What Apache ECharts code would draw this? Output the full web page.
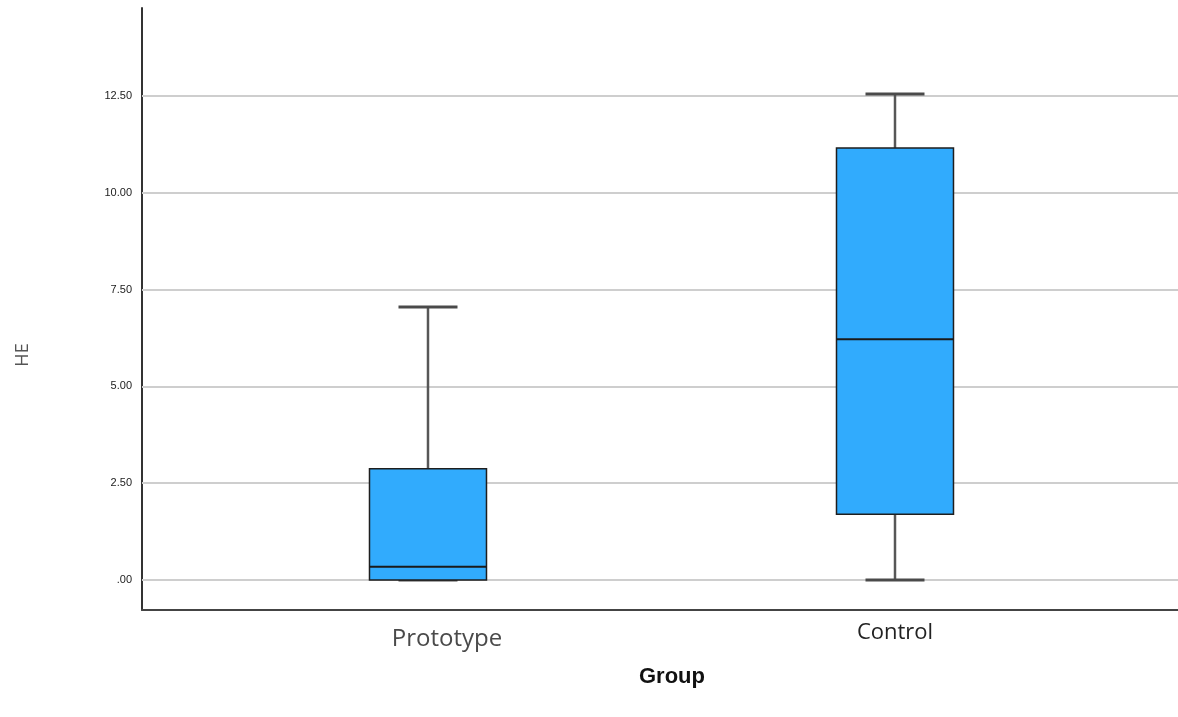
<!DOCTYPE html>
<html><head><meta charset="utf-8">
<script src="https://cdn.jsdelivr.net/npm/echarts@6/dist/echarts.min.js"></script>
<style>html,body{margin:0;padding:0;background:#fff}#c{width:1178px;height:717px}</style>
</head><body><div id="c"></div>
<script>
// ---- data ----
const groups = ['Prototype', 'Control'];
const groupPos = [1, 2];
const whiskerLow = [0, 0];
const q1 = [0, 1.70];
const median = [0.34, 6.22];
const q3 = [2.87, 11.16];
const whiskerHigh = [7.05, 12.55];
const yTicks = [0, 2.5, 5, 7.5, 10, 12.5];
const yTickLabels = ['.00', '2.50', '5.00', '7.50', '10.00', '12.50'];

const boxData = groups.map((g, i) => [groupPos[i], whiskerLow[i], q1[i], median[i], q3[i], whiskerHigh[i]]);

const chart = echarts.init(document.getElementById('c'));
const BOX_HALF = 58.5, CAP_HALF = 29.5;

chart.setOption({
  backgroundColor: '#ffffff',
  animation: false,
  grid: { left: 142, right: 0, top: 8, bottom: 107, containLabel: false },
  xAxis: {
    type: 'value', min: 0.3876, max: 2.606,
    axisLine: { show: true, onZero: false, lineStyle: { color: '#444', width: 2 } },
    axisTick: { show: false },
    splitLine: { show: false },
    axisLabel: {
      customValues: groupPos,
      margin: 12,
      formatter: v => {
        const i = groupPos.indexOf(v);
        return i === 0 ? '{p|' + groups[0] + '}' : '{c|' + groups[i] + '}';
      },
      rich: {
        p: { fontFamily: 'Open Sans', fontSize: 24, color: '#4a4a4a', padding: [5, 0, 0, 38] },
        c: { fontFamily: 'Open Sans', fontSize: 22, color: '#222' }
      }
    },
    name: 'Group', nameLocation: 'middle', nameGap: 56,
    nameTextStyle: { fontFamily: 'Liberation Sans', fontWeight: 'bold', fontSize: 22, color: '#111', padding: [0, 0, 0, 24] }
  },
  yAxis: {
    type: 'value', min: -0.775, max: 14.773,
    axisLine: { show: true, onZero: false, lineStyle: { color: '#333', width: 2 } },
    axisTick: { show: false },
    splitLine: { show: false },
    axisLabel: {
      customValues: yTicks,
      margin: 10,
      fontFamily: 'Liberation Sans', fontSize: 11, color: '#222',
      formatter: v => yTickLabels[yTicks.indexOf(v)]
    },
    name: 'HE', nameLocation: 'middle', nameRotate: 90, nameGap: 110,
    nameTextStyle: { fontFamily: 'Open Sans', fontSize: 18, color: '#555', padding: [0, 92, 0, 0] }
  },
  series: [
    {
      type: 'line', data: [], z: 1, silent: true,
      markLine: {
        silent: true, symbol: 'none', label: { show: false },
        lineStyle: { color: '#cecece', width: 2, type: 'solid' },
        emphasis: { disabled: true },
        data: yTicks.map(v => ({ yAxis: v }))
      }
    },
    {
      type: 'custom', z: 5,
      data: boxData,
      encode: { x: 0, y: [1, 2, 3, 4, 5] },
      renderItem: (params, api) => {
        const x = api.value(0);
        const lo = api.coord([x, api.value(1)]);
        const b1 = api.coord([x, api.value(2)]);
        const md = api.coord([x, api.value(3)]);
        const b3 = api.coord([x, api.value(4)]);
        const hi = api.coord([x, api.value(5)]);
        const cx = lo[0];
        const wStyle = { stroke: '#575757', lineWidth: 2.5 };
        return {
          type: 'group',
          children: [
            { type: 'line', shape: { x1: cx, y1: b3[1], x2: cx, y2: hi[1] }, style: wStyle },
            { type: 'line', shape: { x1: cx, y1: b1[1], x2: cx, y2: lo[1] }, style: wStyle },
            { type: 'line', shape: { x1: cx - CAP_HALF, y1: hi[1], x2: cx + CAP_HALF, y2: hi[1] }, style: { stroke: '#4a4a4a', lineWidth: 3 } },
            { type: 'line', shape: { x1: cx - CAP_HALF, y1: lo[1], x2: cx + CAP_HALF, y2: lo[1] }, style: { stroke: '#4a4a4a', lineWidth: 3 } },
            { type: 'rect', shape: { x: cx - BOX_HALF, y: b3[1], width: BOX_HALF * 2, height: b1[1] - b3[1] },
              style: { fill: '#31abfd', stroke: '#1e1e1e', lineWidth: 1.5 } },
            { type: 'line', shape: { x1: cx - BOX_HALF, y1: md[1], x2: cx + BOX_HALF, y2: md[1] }, style: { stroke: '#1a1a1a', lineWidth: 2 } }
          ]
        };
      }
    }
  ]
});
</script>
</body></html>
